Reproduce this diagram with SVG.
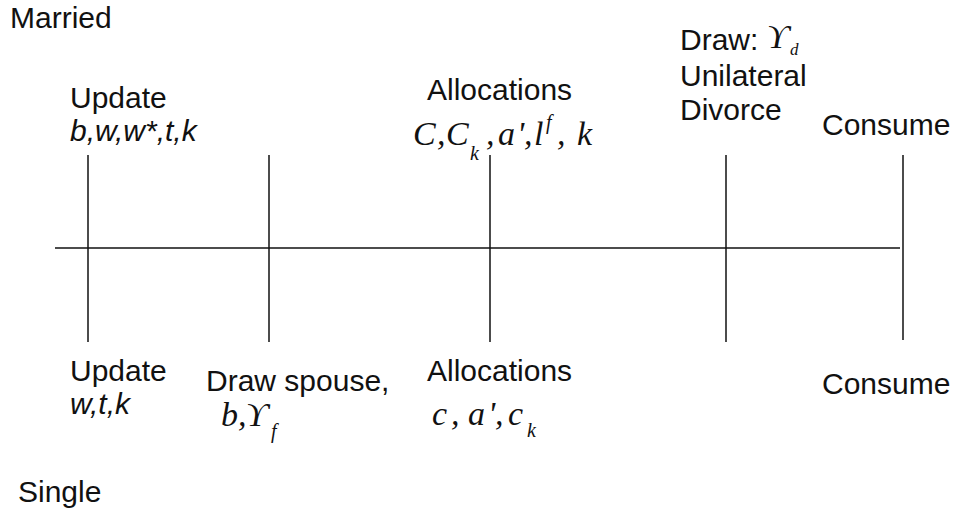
<svg xmlns="http://www.w3.org/2000/svg" width="956" height="517" viewBox="0 0 956 517">
<style>
.t{font-family:"Liberation Sans",Arial,sans-serif;font-size:30px;fill:#111}
.i{font-style:italic}
.m{font-family:"Liberation Serif","DejaVu Serif",serif;font-style:italic;font-size:34px;fill:#111}
.s{font-size:20px}
.ln{stroke:#111;stroke-width:1.5;fill:none}
</style>
<rect width="956" height="517" fill="#fff"/>
<g id="connectors">
<line class="ln" x1="55" y1="248" x2="900" y2="248" stroke-width="2"/>
</g>
<g id="labels">
<text class="t" x="10" y="28">Married</text>
<text class="t" x="18" y="502">Single</text>
</g>
<g id="tick1">
<line class="ln" x1="88" y1="155" x2="88" y2="342"/>
<text class="t" x="70" y="108">Update</text>
<text class="t i" x="70" y="141">b,w,w*,t,k</text>
<text class="t" x="70" y="381">Update</text>
<text class="t i" x="70" y="414">w,t,k</text>
</g>
<g id="tick2">
<line class="ln" x1="269" y1="155" x2="269" y2="342"/>
<text class="t" x="206" y="391">Draw spouse,</text>
<text class="m" y="426"><tspan x="221">b</tspan><tspan x="238">,</tspan><tspan x="246">ϒ</tspan><tspan x="271" y="438" class="s">f</tspan></text>
</g>
<g id="tick3">
<line class="ln" x1="490" y1="155" x2="490" y2="342"/>
<text class="t" x="427" y="100">Allocations</text>
<text class="m" y="145"><tspan x="413">C</tspan><tspan x="437">,</tspan><tspan x="446">C</tspan><tspan x="470" y="160" class="s">k</tspan><tspan x="486" y="145">,</tspan><tspan x="498">a</tspan><tspan x="517">'</tspan><tspan x="524">,</tspan><tspan x="534">l</tspan><tspan x="546" y="129" class="s">f</tspan><tspan x="557" y="145">,</tspan><tspan x="577">k</tspan></text>
<text class="t" x="427" y="381">Allocations</text>
<text class="m" y="425"><tspan x="432">c</tspan><tspan x="451">,</tspan><tspan x="468">a</tspan><tspan x="488">'</tspan><tspan x="495">,</tspan><tspan x="508">c</tspan><tspan x="527" y="437" class="s">k</tspan></text>
</g>
<g id="tick4">
<line class="ln" x1="726" y1="155" x2="726" y2="342"/>
<text class="t" x="680" y="50">Draw:</text>
<text class="m" y="48" font-size="30"><tspan x="767">ϒ</tspan><tspan x="790" y="55" font-size="17">d</tspan></text>
<text class="t" x="680" y="86">Unilateral</text>
<text class="t" x="680" y="120">Divorce</text>
</g>
<g id="tick5">
<line class="ln" x1="903" y1="155" x2="903" y2="340"/>
<text class="t" x="822" y="135">Consume</text>
<text class="t" x="822" y="394">Consume</text>
</g>
</svg>
